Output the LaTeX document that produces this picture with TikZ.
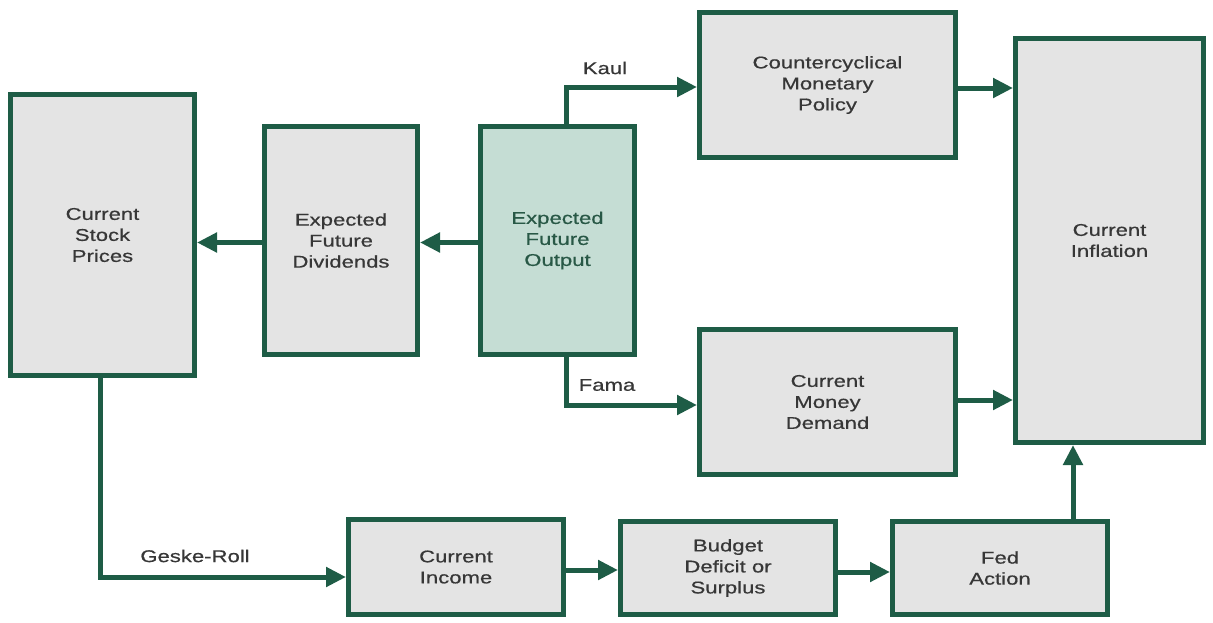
\documentclass[tikz,border=0pt]{standalone}
\usepackage{fontspec}
\setmainfont{Liberation Sans}[FakeStretch=1.3,FakeBold=0.6]
\usetikzlibrary{arrows.meta}
\definecolor{bgreen}{RGB}{30,92,70}
\definecolor{bgray}{RGB}{228,228,228}
\definecolor{bteal}{RGB}{197,221,212}
\definecolor{tgray}{RGB}{55,55,55}
\definecolor{tgreen}{RGB}{40,88,70}
\tikzset{
  box/.style={draw=bgreen, line width=5pt, fill=bgray, text=tgray, align=center,
    font=\fontsize{17}{21}\selectfont, inner sep=0pt, line join=miter},
  arr/.style={draw=bgreen, line width=5pt, line join=miter,
    -{Triangle[length=20pt,width=19pt]}},
  lbl/.style={text=tgray, font=\fontsize{17}{21}\selectfont, inner sep=0pt},
}
\begin{document}
\begin{tikzpicture}[x=1pt,y=-1pt]
\useasboundingbox (0,0) rectangle (1213,622);
\node[box, minimum width=184pt, minimum height=281pt] (stock) at (102.5,235) {Current\\Stock\\Prices};
\node[box, minimum width=153pt, minimum height=228pt] (div) at (341,240.5) {Expected\\Future\\Dividends};
\node[box, fill=bteal, text=tgreen, minimum width=154pt, minimum height=228pt] (out) at (557.5,240.5) {Expected\\Future\\Output};
\node[box, minimum width=256pt, minimum height=145pt] (ccm) at (827.5,85) {Countercyclical\\Monetary\\Policy};
\node[box, minimum width=256pt, minimum height=145pt] (cmd) at (827.5,402) {Current\\Money\\Demand};
\node[box, minimum width=188pt, minimum height=404pt] (inf) at (1109.5,240.5) {Current\\Inflation};
\node[box, minimum width=215pt, minimum height=95pt] (inc) at (456,567) {Current\\Income};
\node[box, minimum width=215pt, minimum height=93pt] (bud) at (728,568) {Budget\\Deficit or\\Surplus};
\node[box, minimum width=215pt, minimum height=93pt] (fed) at (1000,568) {Fed\\Action};

\draw[arr] ([yshift=-2pt]div.west) -- ([yshift=-2pt]div.west -| stock.east);
\draw[arr] ([yshift=-2pt]out.west) -- ([yshift=-2pt]out.west -| div.east);
\draw[arr] ([xshift=8.5pt]out.north) |- ([yshift=-2pt]ccm.west);
\draw[arr] ([xshift=8.5pt]out.south) |- ([yshift=-3pt]cmd.west);
\draw[arr] ([yshift=-3pt]ccm.east) -- ([yshift=-3pt]ccm.east -| inf.west);
\draw[arr] ([yshift=2pt]cmd.east) -- ([yshift=2pt]cmd.east -| inf.west);
\draw[arr] ([xshift=-2.5pt]stock.south) |- ([yshift=-10pt]inc.west);
\draw[arr] ([yshift=-3pt]inc.east) -- ([yshift=-3pt]inc.east -| bud.west);
\draw[arr] ([yshift=-4pt]bud.east) -- ([yshift=-4pt]bud.east -| fed.west);
\draw[arr] ([xshift=73pt]fed.north) -- ([xshift=73pt]fed.north |- inf.south);

\node[lbl] (kaul) at (605,68) {Kaul};
\node[lbl] (fama) at (607,385) {Fama};
\node[lbl] (geske) at (195,556) {Geske-Roll};
\end{tikzpicture}
\end{document}
